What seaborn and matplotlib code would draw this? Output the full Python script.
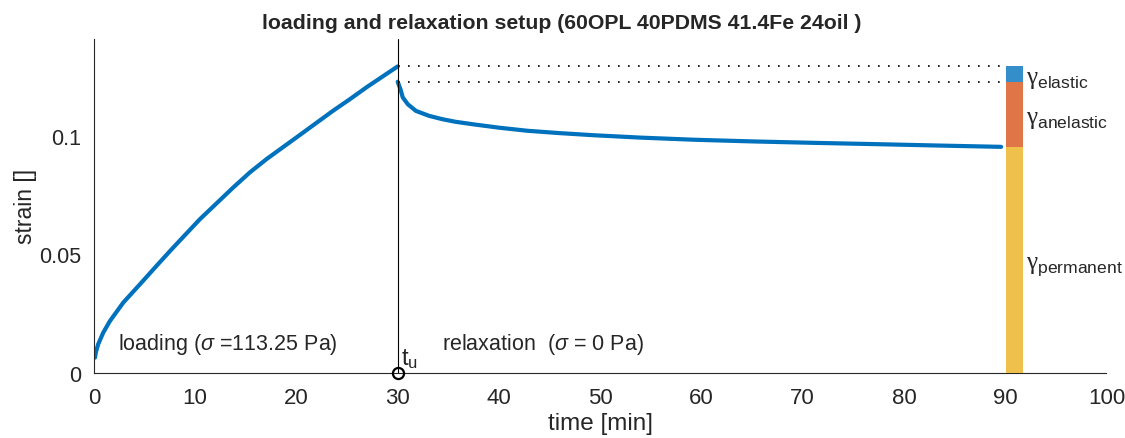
import numpy as np
import pandas as pd
import matplotlib
matplotlib.use('Agg')
import matplotlib.pyplot as plt
import seaborn as sns

# strain data
t_load = [0.1, 0.2, 0.42, 0.92, 1.58, 2.9, 4.54, 6.18, 7.67, 10.46, 13.75, 15.4,
          17.04, 20.33, 23.6, 25.3, 26.9, 30.0]
s_load = [0.0063, 0.0088, 0.0120, 0.0169, 0.0218, 0.0296, 0.0373, 0.0451, 0.0521,
          0.0648, 0.0782, 0.0846, 0.0902, 0.1004, 0.1106, 0.1156, 0.1205, 0.1294]

t_relax = [30.0, 30.27, 30.5, 31.0, 31.8, 33.1, 34.4, 35.7, 37.5, 40.0, 42.8, 46.0,
           49.4, 54.0, 59.3, 65.0, 71.0, 77.7, 84.0, 89.6]
s_relax = [0.1229, 0.1198, 0.1163, 0.1134, 0.1106, 0.1085, 0.1071, 0.1060, 0.1049,
           0.1035, 0.1022, 0.1012, 0.1003, 0.0993, 0.0984, 0.0977, 0.0971, 0.0965,
           0.0959, 0.0954]

# strain components (peak, after elastic drop, end of relaxation)
strain_peak = 0.1294
strain_drop = 0.1229
strain_end = 0.0954
comp_names = ['permanent', 'anelastic', 'elastic']
comp_values = [strain_end, strain_drop - strain_end, strain_peak - strain_drop]
comp_colors = ['#EDB120', '#D95319', '#0072BD']

t_unload = 30.0
bar_t = 90.9
bar_w = 1.65

sns.set_style('white')
plt.rcParams['font.family'] = ['Liberation Sans', 'DejaVu Sans']
plt.rcParams['mathtext.fontset'] = 'custom'
plt.rcParams['mathtext.rm'] = 'Liberation Sans'
plt.rcParams['mathtext.it'] = 'Liberation Sans:italic'
plt.rcParams['mathtext.sf'] = 'Liberation Serif'

fig = plt.figure(figsize=(11.25, 4.39), dpi=100)
ax = fig.add_axes([0.0835, 0.149, 0.9, 0.76])

df_load = pd.DataFrame({'time': t_load, 'strain': s_load})
df_relax = pd.DataFrame({'time': t_relax, 'strain': s_relax})
sns.lineplot(data=df_load, x='time', y='strain', color='#0072BD', linewidth=3, ax=ax)
sns.lineplot(data=df_relax, x='time', y='strain', color='#0072BD', linewidth=3, ax=ax)

# stacked bar of strain parts
bottom = 0
for name, val, col in zip(comp_names, comp_values, comp_colors):
    ax.bar(bar_t, val, width=bar_w, bottom=bottom, color=col, alpha=0.8,
           linewidth=0, zorder=3)
    bottom += val

# dotted guides
ax.hlines([strain_peak, strain_drop], t_unload, bar_t - bar_w / 2, colors='k',
          linestyles=(0, (1, 5)), linewidth=1.2)

ax.axvline(t_unload, color='k', linewidth=0.8)
ax.plot([t_unload], [0], 'o', mfc='none', mec='k', ms=8, mew=1.6, clip_on=False, zorder=5)

# labels
ax.text(t_unload + 0.3, 0.001, r'$\mathrm{t}_{\mathrm{u}}$', fontsize=17, va='bottom')
ax.text(2.4, 0.0124, r'loading ($\sigma$ =113.25 Pa)', fontsize=15.5, va='center')
ax.text(34.4, 0.0124, r'relaxation  ($\sigma$ = 0 Pa)', fontsize=15.5, va='center')
gx = bar_t + bar_w / 2 + 0.3
ax.text(gx, 0.1245, r'$\mathsf{\gamma}_{\mathrm{elastic}}$', fontsize=18, va='center')
ax.text(gx, 0.1075, r'$\mathsf{\gamma}_{\mathrm{anelastic}}$', fontsize=18, va='center')
ax.text(gx, 0.0455, r'$\mathsf{\gamma}_{\mathrm{permanent}}$', fontsize=18, va='center')

ax.set_xlim(0, 100)
ax.set_ylim(0, 0.141)
ax.set_xticks(np.arange(0, 101, 10))
ax.set_yticks([0, 0.05, 0.1])
ax.set_yticklabels(['0', '0.05', '0.1'])
ax.tick_params(direction='in', length=5, labelsize=16, colors='#262626')
ax.tick_params(axis='x', pad=10.5)
ax.tick_params(axis='y', pad=9, labelsize=15.5)
for side in ['top', 'right']:
    ax.spines[side].set_visible(False)
for side in ['left', 'bottom']:
    ax.spines[side].set_color('#262626')
    ax.spines[side].set_linewidth(0.8)

ax.set_xlabel('time [min]', fontsize=17.5, color='#262626', labelpad=3)
ax.set_ylabel('strain []', fontsize=16.5, color='#262626', labelpad=2)
ax.set_title('loading and relaxation setup (60OPL 40PDMS 41.4Fe 24oil )',
             fontsize=15.3, fontweight='bold', pad=8, x=0.462)

fig.savefig('out.png', dpi=100)
